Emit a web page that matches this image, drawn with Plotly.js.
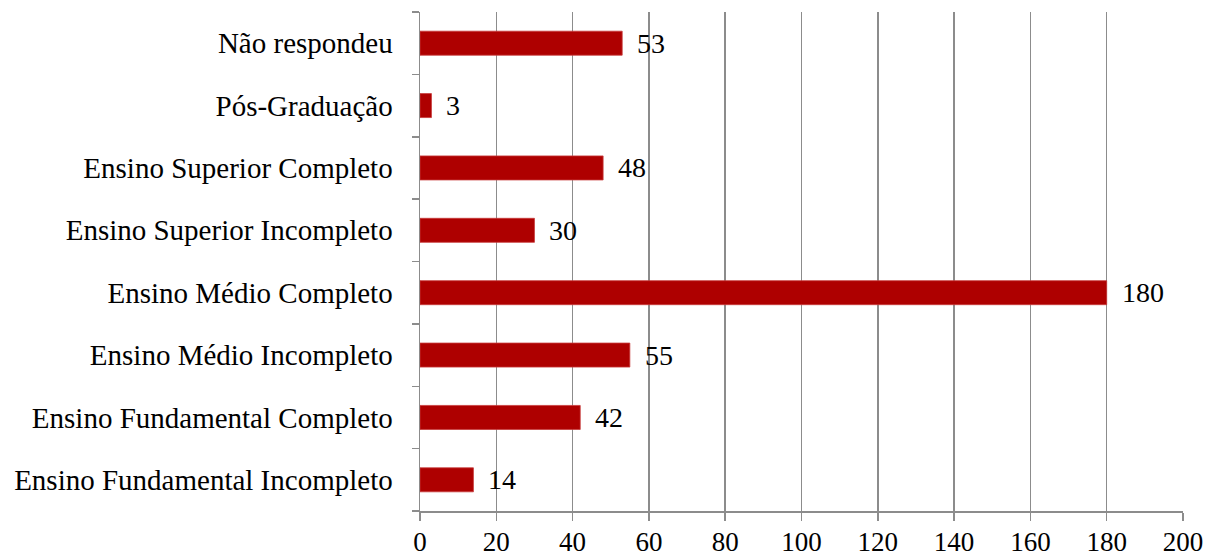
<!DOCTYPE html>
<html>
<head>
<meta charset="utf-8">
<script src="https://cdn.plot.ly/plotly-3.0.1.min.js"></script>
<style>html,body{margin:0;padding:0;background:#fff;}#chart{width:1214px;height:558px;}</style>
</head>
<body>
<div id="chart"></div>
<script>
const categories = [
  "Ensino Fundamental Incompleto",
  "Ensino Fundamental Completo",
  "Ensino Médio Incompleto",
  "Ensino Médio Completo",
  "Ensino Superior Incompleto",
  "Ensino Superior Completo",
  "Pós-Graduação",
  "Não respondeu"
];
const values = [14, 42, 55, 180, 30, 48, 3, 53];
const xTicks = [0, 20, 40, 60, 80, 100, 120, 140, 160, 180, 200];

const font = "'Liberation Serif', 'Times New Roman', serif";

const trace = {
  type: "bar",
  orientation: "h",
  x: values,
  y: categories,
  marker: { color: "#AE0000", line: { color: "#C83A3A", width: 0.8 } },
  width: 0.385,
  hoverinfo: "none"
};

const annotations = values.map((v, i) => ({
  x: v, y: categories[i], xref: "x", yref: "y",
  text: String(v), showarrow: false, xanchor: "left", xshift: 13,
  font: { family: font, size: 28, color: "#000" }
}));

const layout = {
  width: 1214, height: 558,
  margin: { l: 420, r: 31, t: 12, b: 47 },
  paper_bgcolor: "#fff", plot_bgcolor: "#fff",
  showlegend: false,
  font: { family: font, size: 28, color: "#000" },
  xaxis: {
    range: [0, 200], tickvals: xTicks, ticktext: xTicks.map(String),
    showgrid: true, gridcolor: "#8c8c8c", gridwidth: 1.5,
    showline: true, linecolor: "#8c8c8c", linewidth: 1.5,
    ticks: "outside", ticklen: 8, tickcolor: "#8c8c8c", tickwidth: 1.5,
    ticklabelstandoff: -2,
    zeroline: false, fixedrange: true,
    tickfont: { family: font, size: 27, color: "#000" }
  },
  yaxis: {
    type: "category", categoryorder: "array", categoryarray: categories,
    range: [-0.5, 7.5],
    showgrid: false, zeroline: false,
    showline: true, linecolor: "#8c8c8c", linewidth: 1.5,
    ticks: "outside", tickson: "boundaries", ticklen: 7, tickcolor: "#8c8c8c", tickwidth: 1.5,
    ticklabelstandoff: 20,
    tickfont: { family: font, size: 29, color: "#000" },
    fixedrange: true
  },
  annotations: annotations
};

Plotly.newPlot("chart", [trace], layout, { displayModeBar: false, staticPlot: true });
</script>
</body>
</html>
